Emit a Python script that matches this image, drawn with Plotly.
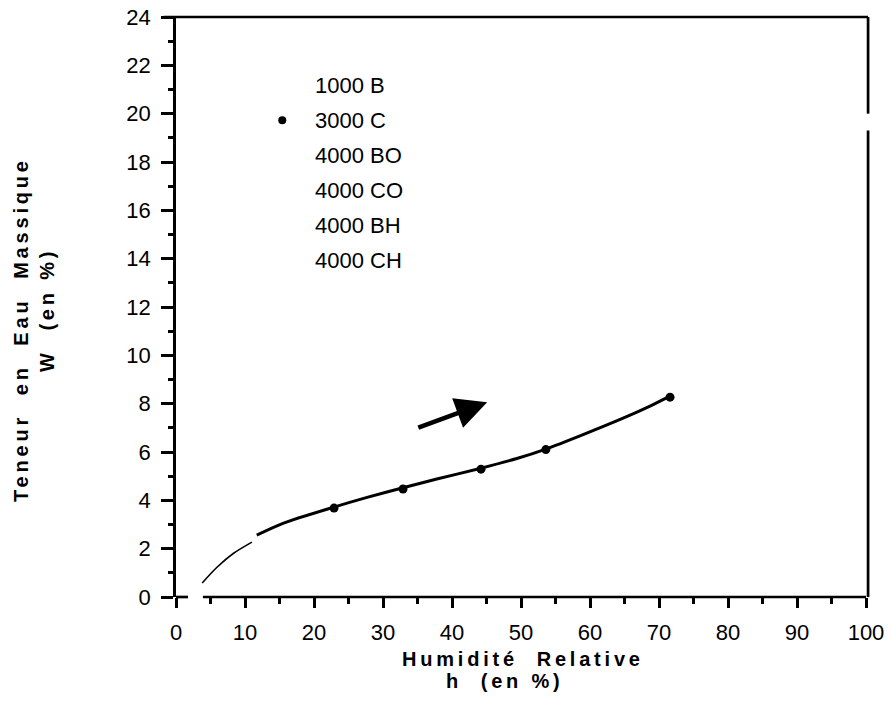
import plotly.graph_objects as go

# Data
curve1_h = [3.8, 5.9, 8.3, 11.0]
curve1_w = [0.58, 1.22, 1.8, 2.27]
curve2_h = [11.7, 15.5, 22.9, 27.7, 32.9, 37.8, 44.2, 49.4, 53.6, 59.0, 64.8, 68.7, 71.3]
curve2_w = [2.56, 3.05, 3.72, 4.12, 4.52, 4.88, 5.33, 5.73, 6.12, 6.72, 7.4, 7.9, 8.27]
points_h = [22.9, 32.9, 44.2, 53.6, 71.6]
points_w = [3.68, 4.47, 5.29, 6.1, 8.27]
legend_labels = ["1000 B", "3000 C", "4000 BO", "4000 CO", "4000 BH", "4000 CH"]
marked_label = "3000 C"
x_ticks = [0, 10, 20, 30, 40, 50, 60, 70, 80, 90, 100]
y_ticks = [0, 2, 4, 6, 8, 10, 12, 14, 16, 18, 20, 22, 24]
arrow_tail = (34.9, 6.99)
arrow_tip = (45.1, 8.06)

FONT = "Liberation Sans, Arial, sans-serif"
TITLE_FONT = dict(family="Liberation Sans, Arial, sans-serif", size=20, color="black")


def spaced(t):
    return '<span style="letter-spacing:3.8px"><b>' + t + '</b></span>'


fig = go.Figure()
fig.add_trace(go.Scatter(x=curve1_h, y=curve1_w, mode="lines",
                         line=dict(color="black", width=1.6, shape="spline", smoothing=0.8), showlegend=False))
fig.add_trace(go.Scatter(x=curve2_h, y=curve2_w, mode="lines",
                         line=dict(color="black", width=3, shape="spline", smoothing=0.8), showlegend=False))
fig.add_trace(go.Scatter(x=points_h, y=points_w, mode="markers", marker=dict(color="black", size=9), showlegend=False))

# legend-like label block
row_y0 = 21.17
row_step = 1.447
lab_x = 19.9
for i, lab in enumerate(legend_labels):
    yv = row_y0 - i * row_step
    fig.add_annotation(x=lab_x, y=yv, xref="x", yref="y", text=lab, showarrow=False,
                       xanchor="left", yanchor="middle", font=dict(family=FONT, size=22, color="black"))
    if lab == marked_label:
        fig.add_trace(go.Scatter(x=[15.4], y=[yv], mode="markers", marker=dict(color="black", size=8), showlegend=False))

# arrow
fig.add_annotation(x=arrow_tip[0], y=arrow_tip[1], ax=arrow_tail[0], ay=arrow_tail[1],
                   xref="x", yref="y", axref="x", ayref="y", text="", showarrow=True,
                   arrowhead=2, arrowsize=1.4, arrowwidth=4.5, arrowcolor="black")

# axis titles
fig.add_annotation(x=0, y=0.5, xref="paper", yref="paper", text=spaced("Teneur  en  Eau  Massique"),
                   textangle=-90, showarrow=False, xshift=-155, yshift=-23,
                   xanchor="center", yanchor="middle", font=TITLE_FONT)
fig.add_annotation(x=0, y=0.5, xref="paper", yref="paper", text=spaced("W  (en %)"),
                   textangle=-90, showarrow=False, xshift=-129, yshift=-3,
                   xanchor="center", yanchor="middle", font=TITLE_FONT)
fig.add_annotation(x=0.5, y=0, xref="paper", yref="paper", text=spaced("Humidité  Relative"),
                   showarrow=False, yshift=-62, xshift=2, xanchor="center", yanchor="middle", font=TITLE_FONT)
fig.add_annotation(x=0.5, y=0, xref="paper", yref="paper", text=spaced("h  (en %)"),
                   showarrow=False, yshift=-84, xshift=-16, xanchor="center", yanchor="middle", font=TITLE_FONT)

# frame lines (scan-like: x axis with small break near origin, right border with a gap)
lw = 2.7
shapes = [
    dict(type="line", xref="paper", yref="paper", x0=0, x1=0.0174, y0=0, y1=0),
    dict(type="line", xref="paper", yref="paper", x0=0.039, x1=1.0, y0=0, y1=0),
    dict(type="line", xref="paper", yref="paper", x0=-0.018, x1=1.003, y0=1, y1=1),
    dict(type="line", xref="paper", yref="paper", x0=1.003, x1=1.003, y0=1, y1=20.0 / 24),
    dict(type="line", xref="paper", yref="paper", x0=1.003, x1=1.003, y0=19.3 / 24, y1=0),
]
for s in shapes:
    s["line"] = dict(color="black", width=lw)
fig.update_layout(shapes=shapes)

fig.update_xaxes(range=[0, 100], tickvals=x_ticks, ticktext=[str(v) for v in x_ticks],
                 ticks="outside", ticklen=10, tickwidth=2.5, tickcolor="black",
                 minor=dict(dtick=5, ticks="outside", ticklen=6, tickwidth=2.5, tickcolor="black"),
                 showline=False, showgrid=False, zeroline=False, automargin=False,
                 ticklabeloverflow="allow",
                 tickfont=dict(family=FONT, size=22, color="black"), ticklabelstandoff=6)
fig.update_yaxes(range=[0, 24], tickvals=y_ticks, ticktext=[str(v) for v in y_ticks],
                 ticks="outside", ticklen=12, tickwidth=2.5, tickcolor="black",
                 minor=dict(dtick=1, ticks="outside", ticklen=5, tickwidth=2.5, tickcolor="black"),
                 showline=True, linecolor="black", linewidth=lw, showgrid=False, zeroline=False,
                 automargin=False, ticklabeloverflow="allow",
                 tickfont=dict(family=FONT, size=22, color="black"), ticklabelstandoff=6)

fig.update_layout(width=891, height=711, margin=dict(l=176, r=25, t=17, b=114),
                  plot_bgcolor="white", paper_bgcolor="white", showlegend=False)

# remove the page's default body margin so the figure fills the window exactly
fig.write_html("out.html", config={"displayModeBar": False},
               post_script="document.body.style.margin='0px';")
